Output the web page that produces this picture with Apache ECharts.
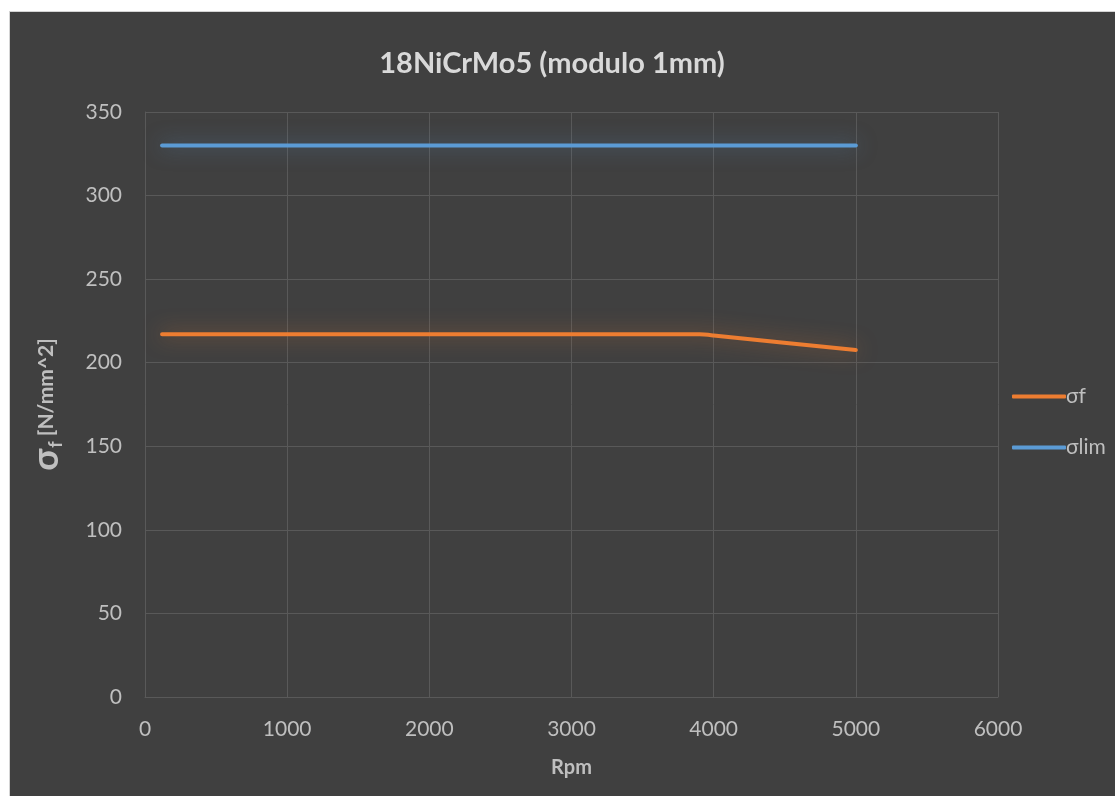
<!DOCTYPE html>
<html>
<head>
<meta charset="utf-8">
<script src="https://cdn.jsdelivr.net/npm/echarts@6/dist/echarts.min.js"></script>
<style>
  html, body { margin: 0; padding: 0; background: #ffffff; }
  #frame {
    position: absolute; left: 9px; top: 11px; width: 1106px; height: 785px;
    background: #404040; border-left: 1px solid #d4d4d4; border-top: 1px solid #d4d4d4;
  }
  #chart { position: absolute; left: 0; top: 0; width: 1115px; height: 796px; }
</style>
</head>
<body>
<div id="frame"></div>
<div id="chart"></div>
<script>
// Rotational speed (rpm) at which the stresses were computed
const rpm = [120, 1000, 2000, 3000, 3900, 4000, 5000];
// Bending stress at the tooth root, N/mm^2
const sigmaF = [217, 217, 217, 217, 217, 216.3, 207.6];
// Allowable bending stress, N/mm^2
const sigmaLim = [330, 330, 330, 330, 330, 330, 330];

const seriesNames = ['σf', 'σlim'];
const xTicks = { min: 0, max: 6000, interval: 1000 };
const yTicks = { min: 0, max: 350, interval: 50 };

const FONT = 'Lato, "Open Sans", sans-serif';
const TEXT = '#bfbfbf';
const GRIDLINE = '#595959';

const pairs = (xs, ys) => xs.map((x, i) => [x, ys[i]]);

const chart = echarts.init(document.getElementById('chart'), null, { renderer: 'canvas' });

chart.setOption({
  backgroundColor: 'transparent',
  animation: false,
  title: {
    text: '18NiCrMo5 (modulo 1mm)',
    left: 547, top: 44, textAlign: 'center',
    textStyle: { fontFamily: FONT, fontSize: 29, fontWeight: 'bold', color: '#d9d9d9' }
  },
  legend: {
    orient: 'vertical',
    left: 1007, top: 381,
    itemWidth: 54, itemHeight: 4, itemGap: 30,
    icon: 'roundRect',
    data: [
      { name: seriesNames[0], itemStyle: { color: '#ed7d31' } },
      { name: seriesNames[1], itemStyle: { color: '#5b9bd5' } }
    ],
    textStyle: { fontFamily: FONT, fontSize: 21, lineHeight: 21, color: TEXT, padding: [0, 0, 0, -5] }
  },
  grid: { left: 145, right: 117, top: 112, bottom: 99, containLabel: false },
  xAxis: {
    type: 'value', min: xTicks.min, max: xTicks.max, interval: xTicks.interval,
    name: 'Rpm', nameLocation: 'middle', nameGap: 61,
    nameTextStyle: { fontFamily: FONT, fontSize: 20, fontWeight: 'bold', color: TEXT },
    axisLine: { show: true, lineStyle: { color: GRIDLINE, width: 1 } },
    axisTick: { show: false },
    axisLabel: { fontFamily: FONT, fontSize: 21, color: TEXT, margin: 22, formatter: v => String(v) },
    splitLine: { show: true, lineStyle: { color: GRIDLINE, width: 1 } }
  },
  yAxis: {
    type: 'value', min: yTicks.min, max: yTicks.max, interval: yTicks.interval,
    name: '{s|σ}{sub|f}{u| [N/mm^2]}', nameLocation: 'middle', nameGap: 80,
    nameTextStyle: {
      fontFamily: FONT, color: TEXT,
      rich: {
        s: { fontFamily: FONT, fontSize: 36, fontWeight: 'bold', color: TEXT },
        sub: { fontFamily: FONT, fontSize: 18, fontWeight: 'bold', color: TEXT, padding: [20, 0, 0, 1] },
        u: { fontFamily: FONT, fontSize: 21, fontWeight: 'bold', color: TEXT }
      }
    },
    axisLine: { show: true, lineStyle: { color: GRIDLINE, width: 1 } },
    axisTick: { show: false },
    axisLabel: { fontFamily: FONT, fontSize: 21, color: TEXT, margin: 23 },
    splitLine: { show: true, lineStyle: { color: GRIDLINE, width: 1 } }
  },
  series: [
    {
      name: seriesNames[0], type: 'line', data: pairs(rpm, sigmaF),
      showSymbol: false, smooth: 0.2, z: 3,
      lineStyle: { color: '#ed7d31', width: 4, cap: 'round', join: 'round',
                   shadowColor: 'rgba(237,125,49,0.55)', shadowBlur: 20 },
      itemStyle: { color: '#ed7d31' }
    },
    {
      name: seriesNames[1], type: 'line', data: pairs(rpm, sigmaLim),
      showSymbol: false, z: 3,
      lineStyle: { color: '#5b9bd5', width: 4, cap: 'round', join: 'round',
                   shadowColor: 'rgba(91,155,213,0.55)', shadowBlur: 20 },
      itemStyle: { color: '#5b9bd5' }
    }
  ]
});
</script>
</body>
</html>
